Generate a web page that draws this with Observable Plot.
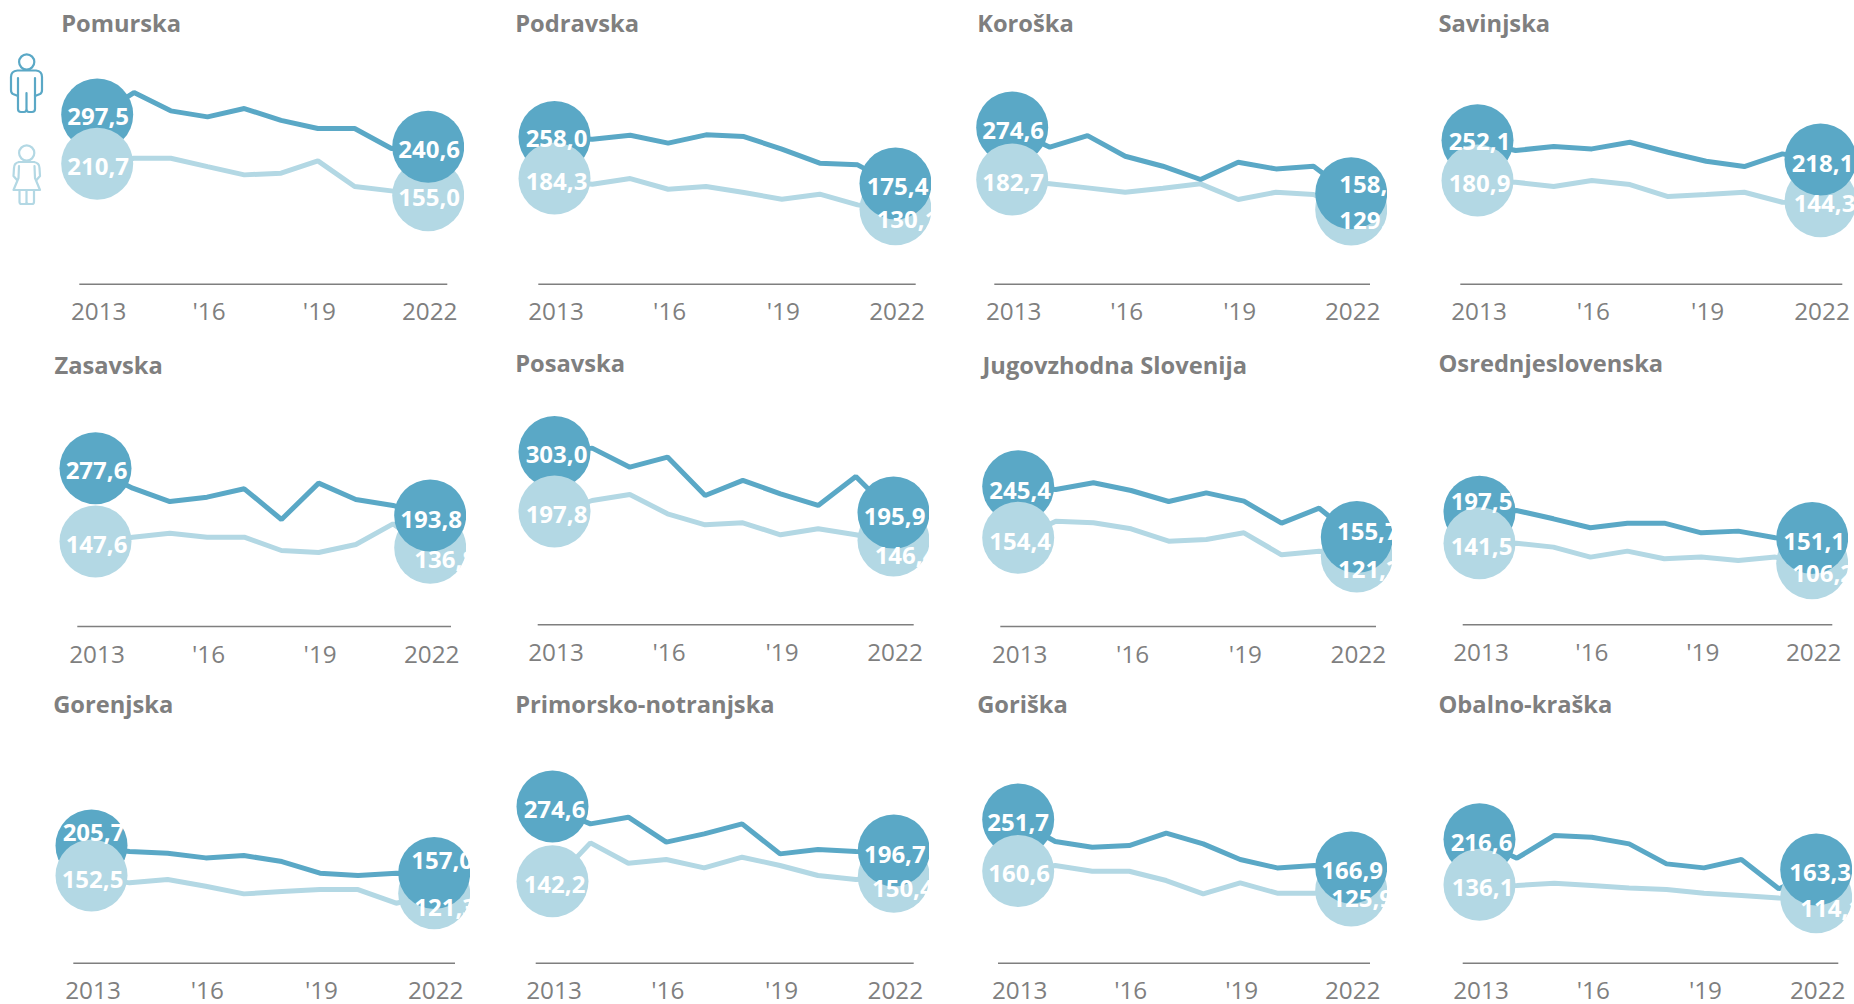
<!DOCTYPE html>
<html>
<head>
<meta charset="utf-8">
<script src="https://cdn.jsdelivr.net/npm/d3@7"></script>
<script src="https://cdn.jsdelivr.net/npm/@observablehq/plot@0.6"></script>
<style>
html,body{margin:0;padding:0;background:#fff;overflow:hidden;width:1854px;height:1004px}
#root{position:relative;width:1854px;height:1004px}
#root>svg{position:absolute}
</style>
</head>
<body>
<div id="root"></div>
<script>
const years = [2013,2014,2015,2016,2017,2018,2019,2020,2021,2022];
const tickYears = [2013,2016,2019,2022];
const regions = ["Pomurska","Podravska","Koroška","Savinjska","Zasavska","Posavska","Jugovzhodna Slovenija","Osrednjeslovenska","Gorenjska","Primorsko-notranjska","Goriška","Obalno-kraška"];

const men = [
 [297.5,339.2,306.8,296.2,310.9,290.0,275.5,275.5,240.1,240.6],
 [258.0,256.6,263.7,249.6,264.3,261.4,239.0,214.2,211.2,175.4],
 [274.6,242.5,263.0,226.5,208.8,185.3,215.9,204.1,208.8,158.3],
 [252.1,236.6,243.7,239.5,251.3,233.6,217.7,208.3,230.7,218.1],
 [277.6,244.8,221.2,228.9,243.7,189.4,253.7,224.8,214.2,193.8],
 [303.0,312.7,279.0,296.8,228.9,255.5,231.9,211.2,262.5,195.9],
 [245.4,242.5,254.3,240.7,221.2,236.6,221.8,182.9,209.4,155.7],
 [197.5,202.4,187.6,171.7,179.9,179.9,162.8,165.8,154.0,151.1],
 [205.7,197.6,194.7,186.4,190.6,179.9,159.3,155.2,159.3,157.0],
 [274.6,246.6,258.4,214.2,228.9,246.6,193.5,201.2,197.6,196.7],
 [251.7,215.3,205.3,208.3,230.1,211.2,183.5,168.7,172.9,166.9],
 [216.6,185.8,226.0,223.0,211.2,175.8,168.7,183.5,131.6,163.3]
];
const women = [
 [210.7,223.0,223.0,208.0,193.5,196.5,218.3,172.9,165.2,155.0],
 [184.3,177.0,187.0,168.1,172.9,162.2,150.4,159.3,140.4,130.1],
 [182.7,177.6,170.5,162.8,169.9,177.6,149.9,162.8,158.7,129.4],
 [180.9,180.5,172.9,183.5,176.4,155.2,158.7,162.8,145.1,144.3],
 [147.6,158.1,165.2,158.1,158.1,134.5,131.0,145.1,181.7,136.8],
 [197.8,220.0,230.7,196.5,177.0,180.5,159.3,169.9,159.3,146.4],
 [154.4,186.4,183.5,172.9,151.0,154.0,165.8,126.8,133.3,121.2],
 [141.5,144.5,137.5,119.8,130.4,116.8,119.8,113.9,119.8,106.2],
 [152.5,142.2,148.1,136.3,122.7,126.8,130.4,130.4,106.2,121.3],
 [142.2,213.0,177.0,183.5,168.7,187.6,172.9,155.2,148.1,150.4],
 [160.6,172.9,162.8,162.8,146.3,122.7,142.2,123.9,123.9,125.9],
 [136.1,137.5,141.6,137.5,133.3,130.4,123.9,119.8,115.6,114.1]
];

// panel placement on the page: centre of first and last year, axis ends, axis height, title
const layout = [
 {x0:96.7,  x1:427.7,  l:79.3,   r:447.3,  ay:283.7, tx:61.7,   ty:24},
 {x0:554,   x1:895,    l:538.3,  r:915.7,  ay:283.7, tx:515.7,  ty:24},
 {x0:1011.7,x1:1350.7, l:994.3,  r:1370,   ay:283.7, tx:977.7,  ty:24},
 {x0:1477,  x1:1820,   l:1460.3, r:1842.3, ay:283.7, tx:1439,   ty:24},
 {x0:95,    x1:429.7,  l:77.3,   r:451,    ay:626,   tx:55,     ty:366},
 {x0:554,   x1:893,    l:537.7,  r:913.7,  ay:624.3, tx:515.7,  ty:364},
 {x0:1017.7,x1:1356.3, l:1000.3, r:1376,   ay:626,   tx:983,    ty:366},
 {x0:1479,  x1:1811.7, l:1462.7, r:1832.3, ay:624.3, tx:1439,   ty:364},
 {x0:91,    x1:433.7,  l:73.3,   r:455,    ay:962.7, tx:53.7,   ty:705},
 {x0:552,   x1:893.3,  l:535.7,  r:913.7,  ay:962.7, tx:515.7,  ty:705},
 {x0:1017.7,x1:1350.7, l:998,    r:1370,   ay:962.7, tx:977.7,  ty:705},
 {x0:1479,  x1:1815.7, l:1462.7, r:1838.3, ay:962.7, tx:1439,   ty:705}
];
// label offsets from circle centres: men first, women first, men last, women last
const labelOffsets = [
 [[1,2],[1,3],[1,3],[1,3]],
 [[2,2],[2,3],[2,3],[12,11]],
 [[1,3],[1,3],[19,-8],[19,11]],
 [[2,2],[2,3],[2,4],[4,3]],
 [[1,3],[1,3],[1,4],[15,12]],
 [[2,3],[2,3],[1,4],[12,15]],
 [[2,4],[2,4],[11,-5],[12,13]],
 [[2,-10],[2,3],[2,4],[11,11]],
 [[2,-13],[1,4],[8,-12],[11,15]],
 [[2,3],[2,3],[1,4],[9,12]],
 [[0,3],[1,3],[1,3],[11,8]],
 [[2,3],[3,3],[4,3],[15,12]]
];

const DARK = "#5aa8c6", PALE = "#b3d8e4", GRAY = "#7f7f7f", FONT = "'Open Sans', sans-serif";
const pxPerUnit = 0.565;
const fmt = v => v.toFixed(1).replace(".", ",");
const tickFmt = y => (y === 2013 || y === 2022) ? String(y) : "'" + String(y).slice(2);
const root = document.getElementById("root");

regions.forEach((name, i) => {
  const L = layout[i];
  const left = Math.floor(Math.min(L.l, L.tx, L.x0 - 36)) - 2;
  const top = i < 4 ? 0 : i < 8 ? 340 : 680;
  const bottom = i < 4 ? 340 : i < 8 ? 680 : 1004;
  const width = Math.round(L.x1 + 36 - left);
  const height = bottom - top;
  const yZero = L.ay - top;
  const yearAt = px => 2013 + (px - L.x0) / (L.x1 - L.x0) * 9;
  const m = years.map((year, k) => ({year, v: men[i][k]}));
  const w = years.map((year, k) => ({year, v: women[i][k]}));
  const first = 0, last = years.length - 1;
  const off = labelOffsets[i];
  const label = (d, o) => Plot.text([d], {
    x:"year", y:"v", text: d => fmt(d.v), fill:"#fff", fontSize:24, fontWeight:700,
    fontFamily:FONT, dx:o[0], dy:o[1] - 1, textAnchor:"middle"
  });
  const chart = Plot.plot({
    width, height,
    marginLeft:0, marginRight:0, marginTop:0, marginBottom:height - yZero,
    style:{background:"transparent", maxWidth:"none", overflow:"hidden", fontFamily:FONT},
    x:{type:"linear", domain:[2013,2022], range:[L.x0 - left, L.x1 - left]},
    y:{type:"linear", domain:[0,300], range:[yZero, yZero - 300*pxPerUnit], axis:null},
    marks:[
      Plot.ruleY([0], {x1:yearAt(L.l), x2:yearAt(L.r), stroke:GRAY, strokeWidth:1.6}),
      Plot.axisX({ticks:tickYears, tickFormat:tickFmt, tickSize:0, tickPadding:19, label:null,
        fontSize:24.3, fill:GRAY, fontFamily:FONT, fontWeight:400, dx:1.5, anchor:"bottom"}),
      Plot.line(w, {x:"year", y:"v", stroke:PALE, strokeWidth:5, strokeLinejoin:"miter"}),
      Plot.line(m, {x:"year", y:"v", stroke:DARK, strokeWidth:5, strokeLinejoin:"miter"}),
      Plot.dot([m[first]], {x:"year", y:"v", r:36, fill:DARK, dy:-1.5}),
      Plot.dot([w[first], w[last]], {x:"year", y:"v", r:36, fill:PALE, dy:-1.5}),
      Plot.dot([m[last]], {x:"year", y:"v", r:36, fill:DARK, dy:-1.5}),
      label(m[first], off[0]), label(w[first], off[1]), label(m[last], off[2]), label(w[last], off[3]),
      Plot.text([name], {frameAnchor:"top-left", dx:L.tx - left - 1, dy:L.ty - top, lineAnchor:"middle",
        textAnchor:"start", fontSize:23.7, fontWeight:700, fill:GRAY, fontFamily:FONT})
    ]
  });
  chart.style.left = left + "px";
  chart.style.top = top + "px";
  root.appendChild(chart);
});

// pictograms: man and woman keys beside the first panel
const ns = "http://www.w3.org/2000/svg";
const icons = document.createElementNS(ns, "svg");
icons.setAttribute("width", 50); icons.setAttribute("height", 215);
icons.style.left = "0px"; icons.style.top = "0px";
icons.innerHTML = `
 <g fill="none" stroke="${DARK}" stroke-width="2.2" stroke-linejoin="round" stroke-linecap="round">
  <circle cx="26.7" cy="62" r="7.6"/>
  <path d="M17.5 70.5 H36 Q42 71 42 77 V90 Q42 93 40 94 L35 96 M17.5 70.5 Q11 71 11 77 V90 Q11 93 13 94 L18 96"/>
  <path d="M18 78 V109 Q18 112 21 112 H24 Q26.5 112 26.5 109 V93 M26.5 109 Q26.5 112 29 112 H32 Q35 112 35 109 V78"/>
 </g>
 <g fill="none" stroke="${PALE}" stroke-width="2.2" stroke-linejoin="round" stroke-linecap="round">
  <circle cx="26.7" cy="153" r="7.6"/>
  <path d="M19 162 Q14 163 14 168 L13.5 176 L17 180 M34 162 Q39.5 163 39.5 168 L40 176 L36.5 180"/>
  <path d="M19 162 H34 M19 166 L18.5 178 L13.5 190 H40 L35 178 L34.5 166"/>
  <path d="M19.5 190 V202 Q19.5 204 21.5 204 H25 Q26.5 204 26.5 202 V190 M26.5 202 Q26.5 204 28.5 204 H32 Q34 204 34 202 V190"/>
 </g>`;
root.appendChild(icons);
</script>
</body>
</html>
